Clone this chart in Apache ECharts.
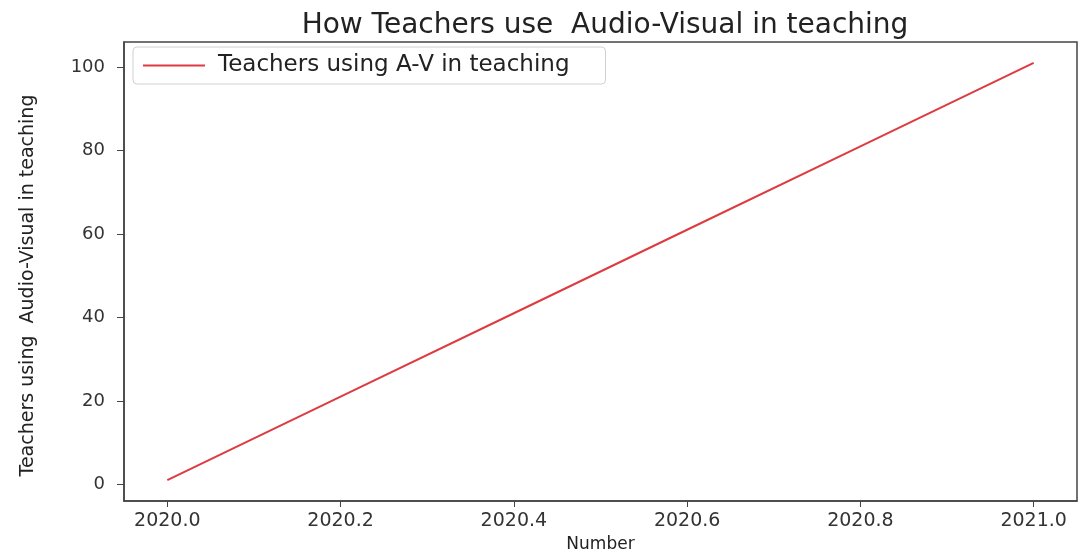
<!DOCTYPE html>
<html>
<head>
    <meta charset="utf-8">
    <title>ECharts</title>
    <script src="https://cdn.jsdelivr.net/npm/echarts@6/dist/echarts.min.js"></script>
    <style>
        body { margin: 0; background: #fff; }
    </style>
</head>
<body>
    <div id="main" style="width: 1081px;height:553px;"></div>
    <script type="text/javascript">
        // values
        var years = [2020.0, 2020.2, 2020.4, 2020.6, 2020.8, 2021.0];
        var teachers = [1, 21, 41, 61, 81, 101];
        var xTicks = [2020.0, 2020.2, 2020.4, 2020.6, 2020.8, 2021.0];
        var yTicks = [0, 20, 40, 60, 80, 100];

        var myChart = echarts.init(document.getElementById('main'));
        var points = years.map(function(x, i) {
            return [x, teachers[i]];
        });
        var axisColor = '#444';
        var labelFont = 'DejaVu Sans';

        var option = {
            animation: false,
            title: {
                text: 'How Teachers use  Audio-Visual in teaching',
                left: 600,
                textAlign: 'center',
                top: 7,
                textStyle: {
                    fontFamily: 'DejaVu Sans',
                    fontSize: 28,
                    fontWeight: 'normal',
                    color: '#222'
                }
            },
            legend: {
                left: 133,
                top: 47,
                orient: 'vertical',
                padding: [7, 36, 7, 10],
                borderColor: '#d0d0d0',
                borderWidth: 1,
                borderRadius: 4,
                icon: 'rect',
                itemWidth: 62,
                itemHeight: 2,
                textStyle: {
                    fontFamily: 'DejaVu Sans',
                    fontSize: 23,
                    color: '#222',
                    padding: [0, 0, 0, 8]
                },
                data: ['Teachers using A-V in teaching']
            },
            grid: {
                left: 124,
                right: 4,
                top: 42,
                bottom: 52,
                containLabel: false,
                outerBoundsMode: 'none',
                show: true,
                borderColor: axisColor,
                borderWidth: 1.5
            },
            xAxis: {
                type: 'value',
                min: 2019.95,
                max: 2021.05,
                name: 'Number',
                nameLocation: 'middle',
                nameGap: 33,
                nameTextStyle: {
                    fontFamily: 'DejaVu Sans',
                    fontSize: 17,
                    color: '#222'
                },
                splitLine: { show: false },
                axisLine: { onZero: false, lineStyle: { color: axisColor, width: 1.5 } },
                axisTick: {
                    show: true,
                    length: 6,
                    customValues: xTicks,
                    lineStyle: { color: axisColor }
                },
                axisLabel: {
                    customValues: xTicks,
                    margin: 11,
                    fontFamily: labelFont,
                    fontSize: 19,
                    color: '#333',
                    formatter: function(v) { return v.toFixed(1); }
                }
            },
            yAxis: {
                type: 'value',
                min: -4,
                max: 106,
                name: 'Teachers using  Audio-Visual in teaching',
                nameLocation: 'middle',
                nameGap: 86,
                nameTextStyle: {
                    fontFamily: 'DejaVu Sans',
                    fontSize: 19,
                    color: '#222',
                    padding: [0, 28, 0, 0]
                },
                splitLine: { show: false },
                axisLine: { onZero: false, lineStyle: { color: axisColor, width: 1.5 } },
                axisTick: {
                    show: true,
                    length: 7,
                    customValues: yTicks,
                    lineStyle: { color: axisColor }
                },
                axisLabel: {
                    customValues: yTicks,
                    margin: 19,
                    fontFamily: labelFont,
                    fontSize: 18,
                    color: '#333'
                }
            },
            series: [{
                name: 'Teachers using A-V in teaching',
                type: 'line',
                symbol: 'none',
                color: '#dd3b40',
                lineStyle: { width: 2, color: '#dd3b40' },
                data: points
            }]
        };

        myChart.setOption(option);
    </script>
</body>
</html>
